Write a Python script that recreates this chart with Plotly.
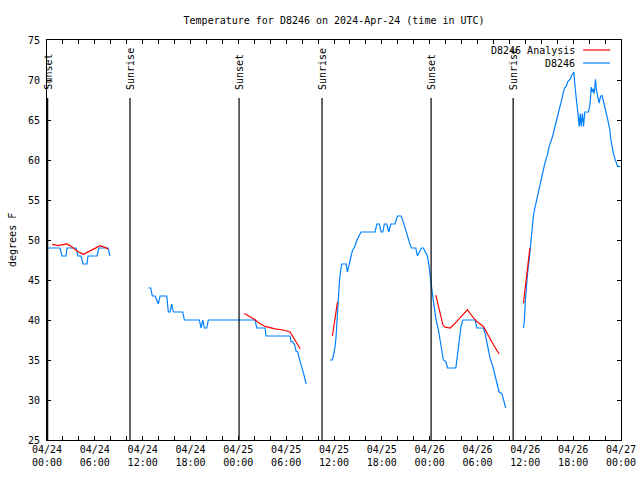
import pandas as pd
import plotly.graph_objects as go

BASE = pd.Timestamp("2024-04-24 00:00")
NAN = float("nan")

# ---- Observed temperature (D8246), hours since 04/24 00:00 UTC ----
obs1_h = [0.0, 1.63, 1.88, 2.38, 2.51, 3.64, 3.89, 4.27, 4.52, 5.02, 5.14, 6.27, 6.52, 7.65, 7.90]
obs1_v = [49, 49, 48, 48, 49, 49, 48, 48, 47, 47, 48, 48, 49, 49, 48]

obs2_h = [12.71, 13.01, 13.21, 13.55, 13.77, 13.97, 14.18, 15.02, 15.22, 15.43, 15.64, 15.85,
          17.03, 17.23, 19.11, 19.32, 19.54, 19.74, 20.04, 20.24, 26.10, 26.31, 27.35, 27.48,
          30.49, 30.61, 30.78, 31.03, 31.24, 31.45, 31.62, 31.83, 32.03, 32.24, 32.50]
obs2_v = [44, 44, 43, 43, 42.5, 42, 43, 43, 41, 41, 42, 41,
          41, 40, 40, 39, 40, 39, 39, 40, 40, 39, 39, 38,
          38, 37.3, 37.3, 37, 36.1, 36, 35.3, 34.6, 34, 33.1, 32]

obs3_h = [35.51, 35.80, 35.93, 36.14, 36.26, 36.35, 36.55, 36.68, 36.85, 36.98, 37.52, 37.68,
          37.89, 38.10, 38.31, 38.52, 38.73, 38.93, 39.18, 39.40, 41.15, 41.37, 41.69, 41.91,
          42.12, 42.32, 42.62, 42.87, 43.12, 43.66, 43.95, 44.42, 44.71, 44.96, 45.21, 45.46,
          45.71, 46.26, 46.46, 46.71, 46.96, 47.21, 47.47, 47.72, 47.93, 48.14, 48.34, 48.56,
          48.81, 49.10, 49.31, 49.52, 49.72, 50.03, 50.23, 51.28, 51.48, 51.69, 51.94, 52.16,
          53.70, 53.92, 54.74, 54.96, 55.24, 55.58, 55.92, 56.21, 56.50, 56.71, 57.05, 57.30, 57.55]
obs3_v = [35, 35, 35.6, 36.7, 37.9, 39.4, 42.9, 44.8, 46.25, 47, 47, 46,
          46.9, 47.7, 48.7, 49, 49.6, 50.1, 50.6, 51, 51, 52, 52, 51,
          51, 52, 52, 51, 52, 52, 53, 53, 52.2, 51.25, 50.4, 49.7,
          49, 49, 48, 48.5, 49, 49, 48.5, 48, 46.7, 44.6, 43.3, 41.7,
          40, 38.75, 37.5, 35.8, 35, 34.8, 34, 34, 35.6, 37.5, 39.2, 40,
          40, 39, 39, 38.3, 36.7, 35.2, 34.2, 32.9, 31.9, 31, 30.8, 30, 29]

obs4_h = [59.76, 59.89, 59.98, 60.10, 60.27, 60.48, 60.64, 60.82, 60.98, 61.14, 61.32, 61.52,
          61.73, 61.95, 62.15, 62.36, 62.57, 62.77, 62.99, 63.20, 63.40, 63.61, 63.83, 64.03,
          64.24, 64.45, 64.65, 64.91, 65.12, 65.33, 65.62, 65.83, 66.08, 66.25, 66.37, 66.50,
          66.62, 66.75, 66.88, 67.00, 67.16, 67.29, 67.47, 67.92, 68.13, 68.26, 68.38, 68.51,
          68.63, 68.80, 68.92, 69.10, 69.26, 69.42, 69.60, 69.76, 69.92, 70.10, 70.26, 70.43,
          70.60, 70.73, 70.89, 71.06, 71.23, 71.39, 71.56, 71.89]
obs4_v = [39, 40, 42.1, 43.75, 45.8, 47.5, 49.2, 51.5, 52.7, 53.75, 54.6, 55.4,
          56.5, 57.5, 58.3, 59.2, 60, 60.6, 61.7, 62.2, 62.9, 63.75, 64.6, 65.2,
          66, 67.1, 67.9, 69, 69.2, 69.8, 70.1, 70.6, 71.0, 69, 67.5, 66.7,
          65.6, 64.2, 65.8, 64.2, 65.8, 64.2, 66, 66, 67.1, 69.1, 68.5, 68.9,
          68.3, 70.1, 68.75, 67.9, 67.1, 67.9, 68.1, 67.5, 66.9, 66.25, 65.4, 64.6,
          63.75, 62.5, 61.5, 60.8, 60.2, 59.6, 59.2, 59.2]

# ---- Analysis (D8246 Analysis) ----
ana1_h = [0.67, 1.0, 1.42, 1.84, 2.47, 2.89, 3.30, 3.73, 4.14, 4.55, 4.98, 5.61, 6.24, 6.65, 7.28, 7.69]
ana1_v = [49.46, 49.38, 49.3, 49.38, 49.5, 49.3, 48.96, 48.67, 48.42, 48.21, 48.42, 48.75, 49.08, 49.3, 49.08, 48.88]

ana2_h = [24.76, 25.47, 26.01, 26.51, 27.35, 28.61, 29.65, 30.49, 30.91, 31.33, 31.75]
ana2_v = [40.8, 40.4, 40.1, 39.7, 39.2, 38.9, 38.75, 38.5, 37.8, 37.1, 36.4]

ana3_h = [35.80, 36.01, 36.23, 36.43]
ana3_v = [38, 39.4, 40.6, 42.2]

ana4_h = [48.77, 49.10, 49.41, 49.66, 49.95, 50.58, 51.20, 52.04, 52.75, 53.30, 53.92, 54.74, 55.37, 56.00, 56.71]
ana4_v = [43.1, 41.7, 40.4, 39.4, 39.1, 39, 39.6, 40.5, 41.3, 40.5, 39.8, 39.2, 38, 36.9, 35.75]

ana5_h = [59.76, 59.89, 60.01, 60.19, 60.31, 60.48, 60.57]
ana5_v = [42.1, 43.3, 44.6, 45.8, 47.1, 48.5, 49.0]

# ---- Sun events ----
sun_labels = ["Sunset", "Sunrise", "Sunset", "Sunrise", "Sunset", "Sunrise"]
sun_hours = [0.08, 10.41, 24.09, 34.50, 48.18, 58.47]

# ---- Axis ticks ----
xtick_hours = [0, 6, 12, 18, 24, 30, 36, 42, 48, 54, 60, 66, 72]
xtick_text = ["04/24<br>00:00", "04/24<br>06:00", "04/24<br>12:00", "04/24<br>18:00",
              "04/25<br>00:00", "04/25<br>06:00", "04/25<br>12:00", "04/25<br>18:00",
              "04/26<br>00:00", "04/26<br>06:00", "04/26<br>12:00", "04/26<br>18:00",
              "04/27<br>00:00"]


def to_time(hours):
    return list(BASE + pd.to_timedelta(hours, unit="h"))


def join(segments):
    xs, ys = [], []
    for h, v in segments:
        xs += to_time(h) + [None]
        ys += list(v) + [NAN]
    return xs, ys


FONT = "DejaVu Sans Mono"
RED = "#ff0000"
BLUE = "#0080ff"

ox, oy = join([(obs1_h, obs1_v), (obs2_h, obs2_v), (obs3_h, obs3_v), (obs4_h, obs4_v)])
ax, ay = join([(ana1_h, ana1_v), (ana2_h, ana2_v), (ana3_h, ana3_v), (ana4_h, ana4_v), (ana5_h, ana5_v)])

fig = go.Figure()
fig.add_trace(go.Scatter(x=ox, y=oy, mode="lines", name="D8246",
                         line=dict(color=BLUE, width=1.2), connectgaps=False))
fig.add_trace(go.Scatter(x=ax, y=ay, mode="lines", name="D8246 Analysis",
                         line=dict(color=RED, width=1.2), connectgaps=False))

shapes = []
annotations = []
for lab, h in zip(sun_labels, sun_hours):
    t = to_time([h])[0]
    shapes.append(dict(type="line", xref="x", yref="paper", x0=t, x1=t, y0=0, y1=0.855,
                       line=dict(color="black", width=1.2)))
    annotations.append(dict(text=lab, x=t, xref="x", y=0.87, yref="paper", textangle=-90,
                            xanchor="center", yanchor="bottom", showarrow=False,
                            font=dict(family=FONT, size=10, color="black")))

# legend (gnuplot style: text then sample line)
for name, color, yp in [("D8246 Analysis", RED, 0.975), ("D8246", BLUE, 0.9425)]:
    annotations.append(dict(text=name, x=0.924, xref="paper", y=yp, yref="paper",
                            xanchor="right", yanchor="middle", showarrow=False,
                            font=dict(family=FONT, size=10, color="black")))
    shapes.append(dict(type="line", xref="paper", yref="paper", x0=0.934, x1=0.981,
                       y0=yp, y1=yp, line=dict(color=color, width=1.2)))

annotations.append(dict(text="degrees F", x=-0.061, xref="paper", y=0.5, yref="paper",
                        textangle=-90, xanchor="center", yanchor="middle", showarrow=False,
                        font=dict(family=FONT, size=10, color="black")))

fig.update_layout(
    width=640, height=480,
    margin=dict(l=47, r=19, t=40, b=40, autoexpand=False),
    paper_bgcolor="white", plot_bgcolor="white",
    showlegend=False,
    hovermode=False,
    title=dict(text="Temperature for D8246 on 2024-Apr-24 (time in UTC)",
               x=0.522, xanchor="center", y=0.958, yanchor="middle", yref="container",
               font=dict(family=FONT, size=10, color="black")),
    font=dict(family=FONT, size=10, color="black"),
    shapes=shapes,
    annotations=annotations,
)

fig.update_xaxes(
    type="date", automargin=False,
    range=[to_time([0])[0], to_time([72])[0]],
    tickvals=to_time(xtick_hours), ticktext=xtick_text,
    ticks="inside", ticklen=4, tickcolor="black",
    minor=dict(dtick=2 * 3600 * 1000, ticks="inside", ticklen=4, tickcolor="black", showgrid=False),
    showline=True, linecolor="black", linewidth=1, mirror="allticks",
    showgrid=False, zeroline=False,
    tickfont=dict(family=FONT, size=10, color="black"),
)
fig.update_yaxes(
    range=[25, 75], dtick=5, tick0=25, automargin=False,
    ticks="inside", ticklen=4, tickcolor="black",
    showline=True, linecolor="black", linewidth=1, mirror="allticks",
    showgrid=False, zeroline=False,
    ticklabelstandoff=4,
    tickfont=dict(family=FONT, size=10, color="black"),
)

fig.write_html(
    "out.html",
    config={"displayModeBar": False, "staticPlot": True},
    post_script="document.body.style.margin='0';document.body.style.overflow='hidden';",
)
